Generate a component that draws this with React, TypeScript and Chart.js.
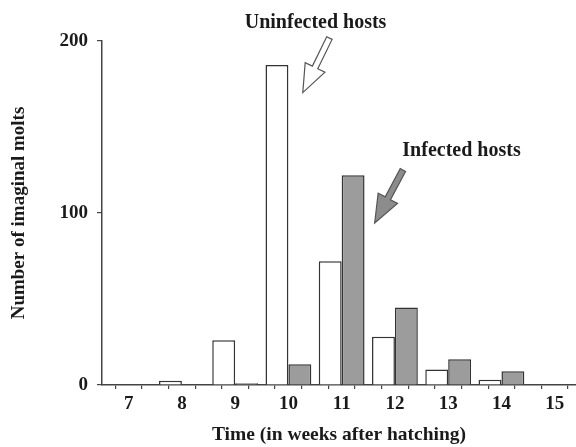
import { useEffect, useRef } from 'react';
import { Chart, registerables } from 'chart.js';

Chart.register(...registerables);

const weeks = [7, 8, 9, 10, 11, 12, 13, 14, 15];
const uninfected = [0, 2.5, 26, 186, 72, 28, 9, 3, 0];
const infected = [0, 0, 1, 12, 122, 45, 15, 8, 0];
const yTickValues = [0, 100, 200];
const xTitle = 'Time (in weeks after hatching)';
const yTitle = 'Number of imaginal molts';
const labelUninfected = 'Uninfected hosts';
const labelInfected = 'Infected hosts';

// annotation anchors in data units
const uninfLabelPos = { x: 10.51, y: 210.5 };
const uninfArrow = { tail: { x: 10.77, y: 201.7 }, tip: { x: 10.27, y: 170 } };
const infLabelPos = { x: 13.25, y: 136 };
const infArrow = { tail: { x: 12.15, y: 125 }, tip: { x: 11.62, y: 94.2 } };

const FONT = "'Liberation Serif', 'Times New Roman', serif";
const INK = '#1a1a1a';
const AXIS = '#444444';
const BAR_EDGE = '#333333';
const GRAY = '#9c9c9c';

function drawArrow(ctx: CanvasRenderingContext2D, x0: number, y0: number, x1: number, y1: number, fill: string, stroke: string) {
  const dx = x1 - x0, dy = y1 - y0, len = Math.hypot(dx, dy);
  const ux = dx / len, uy = dy / len, px = -uy, py = ux;
  const headLen = 28, headHalf = 11, shaftHalf = 3;
  const bx = x1 - ux * headLen, by = y1 - uy * headLen;
  ctx.beginPath();
  ctx.moveTo(x0 + px * shaftHalf, y0 + py * shaftHalf);
  ctx.lineTo(bx + px * shaftHalf, by + py * shaftHalf);
  ctx.lineTo(bx + px * headHalf, by + py * headHalf);
  ctx.lineTo(x1, y1);
  ctx.lineTo(bx - px * headHalf, by - py * headHalf);
  ctx.lineTo(bx - px * shaftHalf, by - py * shaftHalf);
  ctx.lineTo(x0 - px * shaftHalf, y0 - py * shaftHalf);
  ctx.closePath();
  ctx.fillStyle = fill;
  ctx.fill();
  ctx.lineWidth = 1.2;
  ctx.strokeStyle = stroke;
  ctx.stroke();
}

const annotationPlugin = {
  id: 'hostAnnotations',
  afterDatasetsDraw(chart: any) {
    const { ctx } = chart;
    const xs = chart.scales.x, ys = chart.scales.y;
    const px = (p: { x: number; y: number }) => [xs.getPixelForValue(p.x), ys.getPixelForValue(p.y)];
    ctx.save();
    ctx.font = `bold 20px ${FONT}`;
    ctx.fillStyle = INK;
    ctx.textAlign = 'center';
    ctx.textBaseline = 'middle';
    const [ux, uy] = px(uninfLabelPos);
    ctx.fillText(labelUninfected, ux, uy);
    const [ix, iy] = px(infLabelPos);
    ctx.fillText(labelInfected, ix, iy);
    const [a0x, a0y] = px(uninfArrow.tail);
    const [a1x, a1y] = px(uninfArrow.tip);
    drawArrow(ctx, a0x, a0y, a1x, a1y, '#ffffff', '#555555');
    const [b0x, b0y] = px(infArrow.tail);
    const [b1x, b1y] = px(infArrow.tip);
    drawArrow(ctx, b0x, b0y, b1x, b1y, '#8c8c8c', '#555555');
    ctx.restore();
  },
};

export default function App() {
  const ref = useRef<HTMLCanvasElement | null>(null);
  useEffect(() => {
    if (!ref.current) return;
    const chart = new Chart(ref.current, {
      type: 'bar',
      data: {
        datasets: [
          {
            label: labelUninfected,
            data: weeks.map((w, i) => ({ x: w, y: uninfected[i] })),
            backgroundColor: '#ffffff',
            borderColor: BAR_EDGE,
            borderWidth: 1.5,
            borderSkipped: 'start',
          },
          {
            label: labelInfected,
            data: weeks.map((w, i) => ({ x: w, y: infected[i] })),
            backgroundColor: GRAY,
            borderColor: BAR_EDGE,
            borderWidth: 1.5,
            borderSkipped: 'start',
          },
        ],
      },
      options: {
        animation: false,
        responsive: false,
        maintainAspectRatio: false,
        layout: { padding: { left: 0, top: 41, right: 0, bottom: 0 } },
        datasets: { bar: { categoryPercentage: 1.72, barPercentage: 1 } },
        plugins: { legend: { display: false }, tooltip: { enabled: false } },
        scales: {
          x: {
            type: 'linear',
            min: 6.5,
            max: 15.4,
            offset: false,
            afterFit: (s: any) => { s.height = 62; },
            border: { display: true, color: AXIS, width: 1.5 },
            grid: { display: true, drawOnChartArea: false, drawTicks: true, tickLength: 4, color: AXIS, lineWidth: 1.2 },
            ticks: {
              stepSize: 0.5,
              includeBounds: false,
              autoSkip: false,
              maxRotation: 0,
              padding: 4,
              color: INK,
              font: { family: FONT, size: 19, weight: 'bold' },
              callback: (v: any) => (Number.isInteger(v) ? String(v) : ''),
            },
            title: {
              display: true,
              text: xTitle,
              color: INK,
              font: { family: FONT, size: 19.5, weight: 'bold' },
              padding: { top: 0, bottom: 0 },
            },
          },
          y: {
            min: 0,
            max: 200,
            afterFit: (s: any) => { s.width = 102; },
            afterBuildTicks: (s: any) => { s.ticks = yTickValues.map((v) => ({ value: v })); },
            border: { display: true, color: AXIS, width: 1.5 },
            grid: { display: true, drawOnChartArea: false, drawTicks: true, tickLength: 5, color: AXIS, lineWidth: 1.2 },
            ticks: {
              padding: 9,
              color: INK,
              font: { family: FONT, size: 19, weight: 'bold' },
            },
            title: {
              display: true,
              text: yTitle,
              color: INK,
              font: { family: FONT, size: 19, weight: 'bold' },
              padding: { top: 8, bottom: 0 },
            },
          },
        },
      } as any,
      plugins: [annotationPlugin],
    });
    return () => chart.destroy();
  }, []);
  return (
    <div style={{ position: 'absolute', left: 0, top: 0, width: 576, height: 447, overflow: 'hidden', background: '#ffffff' }}>
      <canvas ref={ref} width={576} height={447} />
    </div>
  );
}
